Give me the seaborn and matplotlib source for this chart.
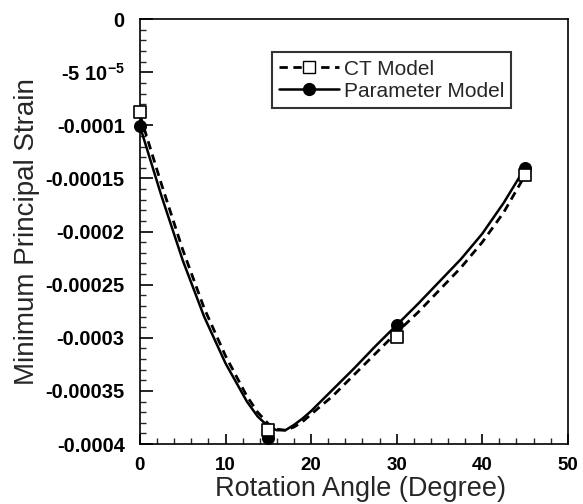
import matplotlib
matplotlib.use("Agg")
import matplotlib.pyplot as plt
from matplotlib.lines import Line2D
from matplotlib.ticker import MultipleLocator, FixedLocator
import seaborn as sns
import pandas as pd

# marker points
angles = [0, 15, 30, 45]
ct_model = [-0.0000875, -0.000387, -0.000299, -0.000147]
param_model = [-0.0001007, -0.000394, -0.000288, -0.00014]

# curve points
curve_angles = [0, 2.5, 5, 7.5, 10, 12.5, 13.75, 15, 16, 17, 18, 19, 20, 22.5, 25,
                27.5, 30, 32.5, 35, 37.5, 40, 42.5, 45]
ct_curve = [-0.000090, -0.000155, -0.000217, -0.000272, -0.000317, -0.000355,
            -0.000370, -0.000381, -0.000386, -0.000387, -0.000384, -0.000379,
            -0.000372, -0.000355, -0.000335, -0.000315, -0.000295, -0.000276,
            -0.000255, -0.000234, -0.000210, -0.000182, -0.000147]
param_curve = [-0.0001007, -0.000166, -0.000227, -0.000280, -0.000324, -0.000360,
               -0.000374, -0.0003835, -0.000387, -0.000387, -0.000382, -0.000376,
               -0.000369, -0.000349, -0.000329, -0.000308, -0.000288, -0.000268,
               -0.000247, -0.000226, -0.000202, -0.000173, -0.000140]

series_names = ["CT Model", "Parameter Model"]
ytick_vals = [0, -0.00005, -0.0001, -0.00015, -0.0002, -0.00025, -0.0003, -0.00035, -0.0004]
ytick_labels = ["0", "-5 10$^{-5}$", "-0.0001", "-0.00015", "-0.0002", "-0.00025",
                "-0.0003", "-0.00035", "-0.0004"]

sns.set_theme(style="white")
plt.rcParams["font.family"] = ["Liberation Sans", "DejaVu Sans"]
plt.rcParams["mathtext.fontset"] = "custom"
plt.rcParams["mathtext.rm"] = "Liberation Sans:bold"
plt.rcParams["mathtext.it"] = "Liberation Sans:bold"
plt.rcParams["mathtext.default"] = "rm"

df_ct = pd.DataFrame({"x": angles, "y": ct_model})
df_pm = pd.DataFrame({"x": angles, "y": param_model})
df_ct_line = pd.DataFrame({"x": curve_angles, "y": ct_curve})
df_pm_line = pd.DataFrame({"x": curve_angles, "y": param_curve})

fig = plt.figure(figsize=(5.83, 5.04), dpi=100)
ax = fig.add_axes([0.240, 0.119, 0.734, 0.843])

sns.lineplot(data=df_ct_line, x="x", y="y", color="black", lw=2, ax=ax,
             linestyle=(0, (3, 2)))
sns.lineplot(data=df_pm_line, x="x", y="y", color="black", lw=1.8, ax=ax, linestyle="-")
for ln in ax.lines:
    ln.set_solid_joinstyle("round")
    ln.set_dash_joinstyle("round")
sns.scatterplot(data=df_ct, x="x", y="y", marker="s", s=85, facecolor="white",
                edgecolor="black", linewidth=1.2, ax=ax, zorder=5, clip_on=False)
sns.scatterplot(data=df_pm, x="x", y="y", marker="o", s=75, color="black",
                edgecolor="black", ax=ax, zorder=4, clip_on=False)

ax.set_xlim(0, 50)
ax.set_ylim(-0.0004, 0)
ax.xaxis.set_major_locator(MultipleLocator(10))
ax.xaxis.set_minor_locator(MultipleLocator(2))
ax.yaxis.set_major_locator(FixedLocator(ytick_vals))
ax.set_yticklabels(ytick_labels)
ax.yaxis.set_minor_locator(MultipleLocator(0.00001))
ax.tick_params(axis="both", which="major", direction="in", width=1.2,
               colors="black", bottom=True, left=True)
ax.tick_params(axis="y", which="major", length=9, pad=11, labelsize=14.5)
ax.tick_params(axis="x", which="major", length=7, pad=9, labelsize=13.5)
ax.tick_params(axis="both", which="minor", direction="in", length=4, width=1.0,
               bottom=True, left=True)
for lab in ax.get_xticklabels() + ax.get_yticklabels():
    lab.set_fontweight("bold")
for sp in ax.spines.values():
    sp.set_color("black")
    sp.set_linewidth(1.2)

ax.set_xlabel("Rotation Angle (Degree)", fontsize=19.5, labelpad=0)
ax.xaxis.set_label_coords(0.515, -0.075)
ax.set_ylabel("Minimum Principal Strain", fontsize=20, labelpad=4)

handles = [
    Line2D([], [], color="black", lw=2, ls=(0, (3, 2)), marker="s", markersize=9,
           markerfacecolor="white", markeredgecolor="black"),
    Line2D([], [], color="black", lw=1.8, ls="-", marker="o", markersize=8.5,
           markerfacecolor="black"),
]
leg = ax.legend(handles, series_names, loc="upper left", bbox_to_anchor=(0.308, 0.922),
                frameon=True, fancybox=False, edgecolor="black", fontsize=15,
                handlelength=2.9, borderpad=0.35, labelspacing=0.15,
                handletextpad=0.2, borderaxespad=0)
leg.get_frame().set_linewidth(1.5)

fig.savefig("out.png", dpi=100)
